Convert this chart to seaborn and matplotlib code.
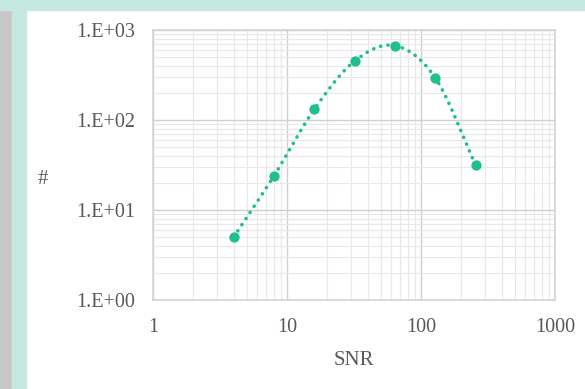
import numpy as np
import pandas as pd
import seaborn as sns
import matplotlib.pyplot as plt
from matplotlib.patches import Rectangle
from matplotlib.ticker import LogLocator, FixedLocator, NullFormatter

# Data
snr = [4, 8, 16, 32, 64, 128, 256]
counts = [5.0, 24, 132, 452, 670, 293, 31.4]
x_ticks = [1, 10, 100, 1000]
x_tick_labels = ["1", "10", "100", "1000"]
y_ticks = [1, 10, 100, 1000]
y_tick_labels = ["1.E+00", "1.E+01", "1.E+02", "1.E+03"]

df = pd.DataFrame({"SNR": snr, "count": counts})

sns.set_theme(style="white")
plt.rcParams["font.family"] = ["Liberation Serif", "DejaVu Serif"]

fig = plt.figure(figsize=(5.85, 3.89), dpi=100)

# Frame decorations: grey strip, teal strip and top band
W, H = 585, 389
fig.patches.append(Rectangle((0, 0), 12 / W, 1, transform=fig.transFigure,
                             color="#c8c8c8", zorder=0))
fig.patches.append(Rectangle((12 / W, 0), 14 / W, 1, transform=fig.transFigure,
                             color="#c5e8e0", zorder=0))
fig.patches.append(Rectangle((0, 1 - 10 / H), 1, 10 / H, transform=fig.transFigure,
                             color="#c5e8e0", zorder=0))

ax = fig.add_axes([153 / W, 1 - 300 / H, (555 - 153) / W, (300 - 30) / H])
ax.set_xscale("log")
ax.set_yscale("log")
ax.set_xlim(1, 1000)
ax.set_ylim(1, 1000)

# Smoothed connecting curve (Catmull-Rom in log-log space)
lx = np.log10(df["SNR"].to_numpy(float))
ly = np.log10(df["count"].to_numpy(float))
px = np.concatenate([[2 * lx[0] - lx[1]], lx, [2 * lx[-1] - lx[-2]]])
py = np.concatenate([[2 * ly[0] - ly[1]], ly, [2 * ly[-1] - ly[-2]]])
sx, sy = [], []
t = np.linspace(0, 1, 30)
for i in range(1, len(px) - 2):
    for arr, out in ((px, sx), (py, sy)):
        p0, p1, p2, p3 = arr[i - 1], arr[i], arr[i + 1], arr[i + 2]
        seg = 0.5 * ((2 * p1) + (-p0 + p2) * t
                     + (2 * p0 - 5 * p1 + 4 * p2 - p3) * t ** 2
                     + (-p0 + 3 * p1 - 3 * p2 + p3) * t ** 3)
        out.extend(seg)
smooth = pd.DataFrame({"SNR": 10 ** np.array(sx), "count": 10 ** np.array(sy)})

color = "#1fbf8f"
ax.plot(smooth["SNR"], smooth["count"], color=color, lw=2.6,
        linestyle=(0, (0.05, 2.0)), dash_capstyle="round", zorder=3)
sns.scatterplot(data=df, x="SNR", y="count", ax=ax, color=color, s=55,
                edgecolor=color, linewidth=0, zorder=4)

# Grid
ax.xaxis.set_major_locator(FixedLocator(x_ticks))
ax.yaxis.set_major_locator(FixedLocator(y_ticks))
ax.xaxis.set_minor_locator(LogLocator(base=10, subs=np.arange(2, 10)))
ax.yaxis.set_minor_locator(LogLocator(base=10, subs=np.arange(2, 10)))
ax.xaxis.set_minor_formatter(NullFormatter())
ax.yaxis.set_minor_formatter(NullFormatter())
ax.grid(which="major", color="#d0d0d0", lw=1.0)
ax.grid(which="minor", color="#e8e8e8", lw=0.8)
ax.set_axisbelow(True)
for s in ax.spines.values():
    s.set_color("#d4d4d4")
    s.set_linewidth(1.2)

ax.set_xticklabels(x_tick_labels)
ax.set_yticklabels(y_tick_labels)
ax.tick_params(axis="both", which="both", length=0, labelsize=14.5,
               labelcolor="#595959")
ax.tick_params(axis="x", pad=13)
ax.tick_params(axis="y", pad=13)

ax.set_xlabel("SNR", fontsize=15, color="#595959", labelpad=10)
ax.set_ylabel("#", fontsize=15, color="#595959", rotation=0, va="center")
ax.yaxis.set_label_coords((43 - 153) / (555 - 153), (300 - 180) / 270)

fig.savefig("out.png", dpi=100)
